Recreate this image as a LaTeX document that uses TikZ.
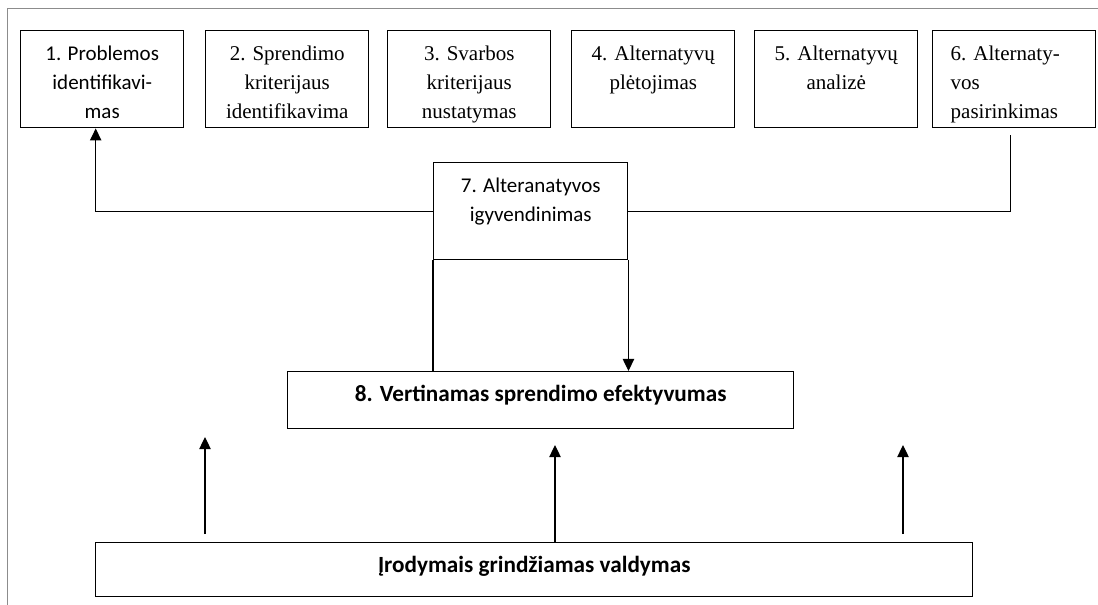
\documentclass[tikz,border=0pt]{standalone}
\usepackage{fontspec}
\setmainfont{Liberation Serif}
\newfontfamily\calfont{Carlito}
\usepackage{tikz}
\usetikzlibrary{arrows.meta}
\tikzset{>={Triangle[length=9pt,width=8.5pt]}}
\definecolor{framegray}{gray}{0.55}
\newcommand{\intext}[3]{\parbox[c][#2][t]{#1}{\centering\vspace*{7.3pt}\strut#3}}

\begin{document}
\begin{tikzpicture}[x=0.75pt,y=-0.75pt,
    box/.style={draw,line width=1.1pt,inner sep=0pt,anchor=north west,
      font=\fontsize{15.75pt}{21.75pt}\selectfont},
    sbox/.style={box,font=\calfont\fontsize{15.75pt}{21.75pt}\selectfont},
    bbox/.style={box,font=\calfont\bfseries\fontsize{17.4pt}{21.75pt}\selectfont},
    link/.style={line width=0.9pt}]
  \useasboundingbox (0,0) rectangle (1098,605);
  \draw[framegray,line width=0.75pt] (1098,9) -| (7,605);
  % top row
  \node[sbox] (b1) at (20,30) {\intext{122.25pt}{72.75pt}{1. Problemos\\identifikavi-\\mas}};
  \node[box] (b2) at (205,30) {\intext{122.25pt}{72.75pt}{2. Sprendimo\\kriterijaus\\identifikavima}};
  \node[box] (b3) at (387,30) {\intext{122.25pt}{72.75pt}{3. Svarbos\\kriterijaus\\nustatymas}};
  \node[box] (b4) at (571,30) {\intext{122.25pt}{72.75pt}{4. Alternatyvų\\plėtojimas}};
  \node[box] (b5) at (754,30) {\intext{122.25pt}{72.75pt}{5. Alternatyvų\\analizė}};
  \node[box] (b6) at (932,30) {\intext{122.25pt}{72.75pt}{\raggedright\leftskip=13.5pt 6. Alternaty-\\vos\\pasirinkimas}};
  \node[sbox] (b7) at (433,162) {\intext{145.5pt}{72.75pt}{7. Alteranatyvos\\igyvendinimas}};
  \node[bbox] (b8) at (287,371) {\intext{379.5pt}{42.75pt}{8. Vertinamas sprendimo efektyvumas}};
  \node[bbox] (low) at (95,542) {\intext{657.75pt}{40.5pt}{Įrodymais grindžiamas valdymas}};
  \draw[link,->] (b7.west) -| ([xshift=-4.9pt]b1.south);
  \draw[link] (b7.east) -| ([xshift=-2.6pt,yshift=-5.25pt]b6.south);
  \draw[link] (b7.south west) -- (b7.south west |- b8.north);
  \draw[link,->] (b7.south east) -- (b7.south east |- b8.north);
  \coordinate (tipL) at (205,437);
  \coordinate (tipM) at (555,445);
  \coordinate (tipR) at (903,445);
  \draw[link,->] ([yshift=6pt]tipL |- low.north) -- (tipL);
  \draw[link,->] (tipM |- low.north) -- (tipM);
  \draw[link,->] ([yshift=6pt]tipR |- low.north) -- (tipR);
\end{tikzpicture}
\end{document}
